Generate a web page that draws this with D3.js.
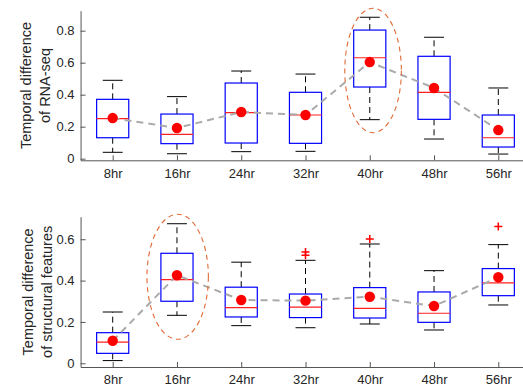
<!DOCTYPE html>
<html>
<head>
<meta charset="utf-8">
<script src="https://cdn.jsdelivr.net/npm/d3@7"></script>
<style>
  html, body { margin: 0; padding: 0; background: #fff; overflow: hidden; }
  svg { display: block; font-family: "Liberation Sans", Arial, sans-serif; }
</style>
</head>
<body>
<svg id="chart" width="523" height="387"></svg>
<script>
// ---------- data ----------
const categories = ["8hr", "16hr", "24hr", "32hr", "40hr", "48hr", "56hr"];

// RNA-seq panel
const rnaWhiskerLow  = [0.040, 0.031, 0.044, 0.046, 0.244, 0.123, 0.029];
const rnaQ1          = [0.131, 0.094, 0.098, 0.096, 0.448, 0.246, 0.073];
const rnaMedian      = [0.250, 0.152, 0.288, 0.273, 0.631, 0.415, 0.131];
const rnaQ3          = [0.371, 0.279, 0.473, 0.415, 0.804, 0.640, 0.273];
const rnaWhiskerHigh = [0.490, 0.388, 0.548, 0.529, 0.884, 0.759, 0.442];
const rnaMean        = [0.254, 0.192, 0.292, 0.273, 0.604, 0.442, 0.179];
const rnaOutliers    = [[], [], [], [], [], [], []];
const rnaTicks       = [0, 0.2, 0.4, 0.6, 0.8];

// structural features panel
const strWhiskerLow  = [0.013, 0.232, 0.182, 0.172, 0.190, 0.161, 0.282];
const strQ1          = [0.048, 0.300, 0.224, 0.221, 0.219, 0.198, 0.327];
const strMedian      = [0.102, 0.405, 0.269, 0.272, 0.266, 0.242, 0.389];
const strQ3          = [0.148, 0.532, 0.368, 0.335, 0.366, 0.345, 0.458];
const strWhiskerHigh = [0.248, 0.675, 0.489, 0.498, 0.577, 0.448, 0.574];
const strMean        = [0.109, 0.426, 0.306, 0.303, 0.322, 0.277, 0.416];
const strOutliers    = [[], [], [], [0.538, 0.522], [0.601], [], [0.661]];
const strTicks       = [0, 0.2, 0.4, 0.6];

// highlighted category per panel and its ellipse extent (value units)
const rnaHighlight = { cat: "40hr", top: 0.94, bottom: 0.1625 };
const strHighlight = { cat: "16hr", top: 0.721, bottom: 0.116 };

// ---------- drawing ----------
const svg = d3.select("#chart");
const axisColor = "#555555";
const textColor = "#262626";

function panel(opts) {
  const g = svg.append("g");
  const x = d3.scalePoint().domain(categories).range([112.7, 498.3]);
  const step = x.step();
  const xl = d3.scaleLinear().domain([-0.5, categories.length - 0.5])
    .range([x(categories[0]) - step / 2, x(categories[categories.length - 1]) + step / 2]);
  const y = d3.scaleLinear().domain(opts.domain).range([opts.bottom, opts.top]);
  const boxW = step * 0.5;
  const capW = step * 0.31;

  const rows = categories.map((c, i) => ({
    c, lo: opts.wl[i], q1: opts.q1[i], med: opts.med[i], q3: opts.q3[i],
    hi: opts.wh[i], mean: opts.mean[i], out: opts.out[i]
  }));

  // axes
  const yAxis = d3.axisLeft(y).tickValues(opts.ticks).tickSizeInner(-5).tickSizeOuter(0)
    .tickPadding(6).tickFormat(d => d === 0 ? "0" : d3.format(".1f")(d));
  const gy = g.append("g").attr("transform", `translate(${xl.range()[0]},0)`).call(yAxis);
  const xAxis = d3.axisBottom(xl).tickValues(d3.range(categories.length))
    .tickSizeInner(-5).tickSizeOuter(0).tickPadding(opts.xPad).tickFormat(i => categories[i]);
  const gx = g.append("g").attr("transform", `translate(0,${opts.bottom})`).call(xAxis);
  [gx, gy].forEach(a => {
    a.select(".domain").attr("stroke", axisColor).attr("stroke-width", 1);
    a.selectAll(".tick line").attr("stroke", axisColor);
    a.selectAll(".tick text").attr("fill", textColor).attr("font-size", 13)
      .attr("font-family", "'Liberation Sans', Arial, sans-serif");
  });

  // whiskers
  const wg = g.append("g");
  rows.forEach(r => {
    const cx = x(r.c);
    wg.append("line").attr("x1", cx).attr("x2", cx).attr("y1", y(r.q3)).attr("y2", y(r.hi))
      .attr("stroke", "#000").attr("stroke-width", 1).attr("stroke-dasharray", "6,4");
    wg.append("line").attr("x1", cx).attr("x2", cx).attr("y1", y(r.q1)).attr("y2", y(r.lo))
      .attr("stroke", "#000").attr("stroke-width", 1).attr("stroke-dasharray", "6,4");
    [r.hi, r.lo].forEach(v => {
      wg.append("line").attr("x1", cx - capW / 2).attr("x2", cx + capW / 2)
        .attr("y1", y(v)).attr("y2", y(v)).attr("stroke", "#000").attr("stroke-width", 1);
    });
  });

  // boxes
  g.append("g").selectAll("rect").data(rows).join("rect")
    .attr("x", d => x(d.c) - boxW / 2).attr("width", boxW)
    .attr("y", d => y(d.q3)).attr("height", d => y(d.q1) - y(d.q3))
    .attr("fill", "none").attr("stroke", "#0000ff").attr("stroke-width", 1.2);

  // medians
  g.append("g").selectAll("line").data(rows).join("line")
    .attr("x1", d => x(d.c) - boxW / 2).attr("x2", d => x(d.c) + boxW / 2)
    .attr("y1", d => y(d.med)).attr("y2", d => y(d.med))
    .attr("stroke", "#ff2020").attr("stroke-width", 1.2);

  // outliers
  const og = g.append("g");
  rows.forEach(r => r.out.forEach(v => {
    const cx = x(r.c), cy = y(v);
    og.append("path").attr("d", `M${cx - 4},${cy}H${cx + 4}M${cx},${cy - 4}V${cy + 4}`)
      .attr("stroke", "#ff0000").attr("stroke-width", 1.5).attr("fill", "none");
  }));

  // mean trend line
  g.append("path").datum(rows)
    .attr("d", d3.line().x(d => x(d.c)).y(d => y(d.mean)))
    .attr("fill", "none").attr("stroke", "#aaaaaa").attr("stroke-width", 2)
    .attr("stroke-dasharray", "7,5");

  // mean dots
  g.append("g").selectAll("circle").data(rows).join("circle")
    .attr("cx", d => x(d.c)).attr("cy", d => y(d.mean)).attr("r", 5.2)
    .attr("fill", "#ff0000");

  // highlight ellipse
  const h = opts.highlight;
  g.append("ellipse")
    .attr("cx", x(h.cat) + opts.ellDx)
    .attr("cy", (y(h.top) + y(h.bottom)) / 2)
    .attr("rx", opts.ellRx)
    .attr("ry", (y(h.bottom) - y(h.top)) / 2)
    .attr("fill", "none").attr("stroke", "#e06a35").attr("stroke-width", 1.1)
    .attr("stroke-dasharray", "5,4");

  // y label
  const lab = g.append("text").attr("fill", textColor).attr("font-size", 14.5)
    .attr("text-anchor", "middle")
    .attr("transform", `translate(0,${(opts.top + opts.bottom) / 2}) rotate(-90)`);
  opts.label.forEach((t, i) => {
    lab.append("tspan").attr("x", 0).attr("y", opts.labelX[i]).text(t);
  });
}

panel({
  domain: [-0.01, 0.925], top: 10.7, bottom: 160.3, ticks: rnaTicks, xPad: 8,
  wl: rnaWhiskerLow, q1: rnaQ1, med: rnaMedian, q3: rnaQ3, wh: rnaWhiskerHigh,
  mean: rnaMean, out: rnaOutliers, highlight: rnaHighlight, ellDx: 3.3, ellRx: 28.3,
  label: ["Temporal difference", "of RNA-seq"], labelX: [30.5, 49.5]
});

panel({
  domain: [-0.018, 0.709], top: 216.7, bottom: 367, ticks: strTicks, xPad: 8,
  wl: strWhiskerLow, q1: strQ1, med: strMedian, q3: strQ3, wh: strWhiskerHigh,
  mean: strMean, out: strOutliers, highlight: strHighlight, ellDx: 0.7, ellRx: 30.7,
  label: ["Temporal difference", "of structural features"], labelX: [33, 52]
});
</script>
</body>
</html>
